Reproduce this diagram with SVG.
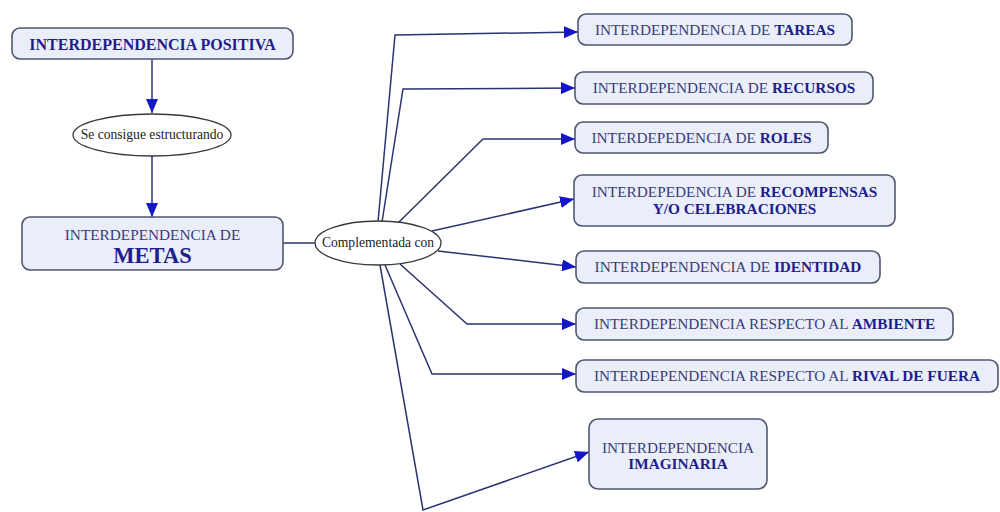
<svg xmlns="http://www.w3.org/2000/svg" width="1000" height="512" viewBox="0 0 1000 512">
  <style>
    .box { fill: #e9eef8; stroke: #4f5670; stroke-width: 1.6; }
    .oval { fill: #ffffff; stroke: #3a3a3a; stroke-width: 1.3; }
    .lbl { font-family: "Liberation Serif", "Times New Roman", serif; font-size: 15.3px; fill: #3b3b78; text-anchor: middle; }
    .b { font-weight: bold; fill: #1e1e8c; }
    .olbl { font-family: "Liberation Serif", "Times New Roman", serif; font-size: 13.6px; fill: #222222; text-anchor: middle; }
    .wire { fill: none; stroke: #2c3470; stroke-width: 1.5; }
    .arr { marker-end: url(#head); }
  </style>
  <defs>
    <marker id="head" markerUnits="userSpaceOnUse" markerWidth="14" markerHeight="12" viewBox="0 0 14 12" refX="14" refY="6" orient="auto">
      <path d="M0,0 L14,6 L0,12 Z" fill="#1515c8"/>
    </marker>
  </defs>

  <rect width="1000" height="512" fill="#ffffff"/>

  <!-- connectors -->
  <g id="connectors">
    <path class="wire arr" d="M152,59 L152,113"/>
    <path class="wire arr" d="M152,156 L152,217"/>
    <path class="wire" d="M283,243 L315,243"/>
    <path class="wire arr" d="M378,222 L395,35 L578,32"/>
    <path class="wire arr" d="M382,222 L403,89 L575,88"/>
    <path class="wire arr" d="M398,223 L483,139 L575,139"/>
    <path class="wire arr" d="M432,231 L574,199"/>
    <path class="wire arr" d="M438,251 L576,267"/>
    <path class="wire arr" d="M400,264 L467,324 L576,324"/>
    <path class="wire arr" d="M385,265 L432,374 L576,374"/>
    <path class="wire arr" d="M380,265 L423,510 L589,452"/>
  </g>

  <g id="n-positiva">
    <rect class="box" x="12" y="28" width="281" height="31" rx="8"/>
    <text class="lbl" x="152.5" y="50" style="font-size:16px"><tspan class="b">INTERDEPENDENCIA POSITIVA</tspan></text>
  </g>

  <g id="n-estructurando">
    <ellipse class="oval" cx="152" cy="135" rx="79" ry="21"/>
    <text class="olbl" x="152" y="139">Se consigue estructurando</text>
  </g>

  <g id="n-metas">
    <rect class="box" x="22" y="217" width="261" height="53" rx="8"/>
    <text class="lbl" x="152.5" y="240">INTERDEPENDENCIA DE</text>
    <text class="lbl" x="152.5" y="263" style="font-size:22.5px"><tspan class="b">METAS</tspan></text>
  </g>

  <g id="n-complementada">
    <ellipse class="oval" cx="378" cy="243" rx="63" ry="22"/>
    <text class="olbl" x="378" y="247">Complementada con</text>
  </g>

  <g id="n-tareas">
    <rect class="box" x="578" y="14" width="274" height="31" rx="8"/>
    <text class="lbl" x="715" y="35">INTERDEPENDENCIA DE <tspan class="b">TAREAS</tspan></text>
  </g>

  <g id="n-recursos">
    <rect class="box" x="575" y="72" width="298" height="32" rx="8"/>
    <text class="lbl" x="724" y="93">INTERDEPENDENCIA DE <tspan class="b">RECURSOS</tspan></text>
  </g>

  <g id="n-roles">
    <rect class="box" x="575" y="122" width="253" height="31" rx="8"/>
    <text class="lbl" x="701.5" y="143">INTERDEPEDENCIA DE <tspan class="b">ROLES</tspan></text>
  </g>

  <g id="n-recompensas">
    <rect class="box" x="574" y="175" width="321" height="51" rx="8"/>
    <text class="lbl" x="734.5" y="197">INTERDEPEDENCIA DE <tspan class="b">RECOMPENSAS</tspan></text>
    <text class="lbl" x="734.5" y="214"><tspan class="b">Y/O CELEBRACIONES</tspan></text>
  </g>

  <g id="n-identidad">
    <rect class="box" x="576" y="251" width="304" height="32" rx="8"/>
    <text class="lbl" x="728" y="272">INTERDEPENDENCIA DE <tspan class="b">IDENTIDAD</tspan></text>
  </g>

  <g id="n-ambiente">
    <rect class="box" x="576" y="308" width="377" height="32" rx="8"/>
    <text class="lbl" x="764.5" y="329">INTERDEPENDENCIA RESPECTO AL <tspan class="b">AMBIENTE</tspan></text>
  </g>

  <g id="n-rival">
    <rect class="box" x="576" y="360" width="422" height="32" rx="8"/>
    <text class="lbl" x="787" y="381">INTERDEPENDENCIA RESPECTO AL <tspan class="b">RIVAL DE FUERA</tspan></text>
  </g>

  <g id="n-imaginaria">
    <rect class="box" x="589" y="419" width="178" height="70" rx="9"/>
    <text class="lbl" x="678" y="453">INTERDEPENDENCIA</text>
    <text class="lbl" x="678" y="469"><tspan class="b">IMAGINARIA</tspan></text>
  </g>
</svg>
